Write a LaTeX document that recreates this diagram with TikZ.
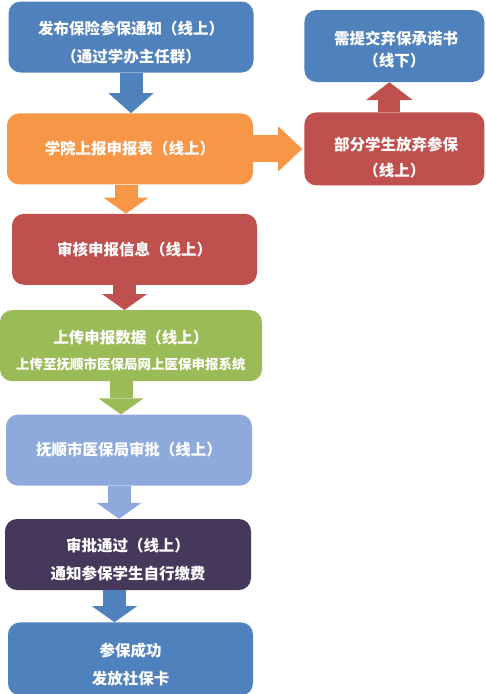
\documentclass[tikz,border=0pt]{standalone}
\usepackage{fontspec}
\setmainfont{Noto Sans CJK SC}
\usepackage{xcolor}
\definecolor{cBlue}  {HTML}{4F81BD}
\definecolor{cOrange}{HTML}{F79646}
\definecolor{cRed}   {HTML}{C0504D}
\definecolor{cGreen} {HTML}{9BBB59}
\definecolor{cSky}   {HTML}{8EA9DB}
\definecolor{cPlum}  {HTML}{46385B}
\usetikzlibrary{arrows.meta, positioning}
\newcommand{\dropline}[1][24pt]{\rule{0pt}{#1}}
\tikzset{
  box/.style    = {rectangle, rounded corners=12pt, minimum width=#1,
                   minimum height=71pt, align=center, text=white,
                   font=\fontsize{15.5pt}{28pt}\selectfont\bfseries},
  box/.default  = 245pt,
  blkarr/.style = {draw=#1, line width=23pt,
                   -{Triangle[width=45pt, length=16pt, line width=0pt]}},
}

\begin{document}
\begin{tikzpicture}

  \useasboundingbox (0pt,0pt) rectangle (485pt,-694pt);

  \node[box, fill=cBlue] (notice) at (131pt,-37pt)
        {\dropline 发布保险参保通知（线上）\\（通过学办主任群）};
  \node[box=246pt, fill=cOrange, below=40.5pt of notice, xshift=-1pt] (report)
        {学院上报申报表（线上）};
  \node[box, fill=cRed,    below=29pt of report, xshift=4.5pt] (check)
        {审核申报信息（线上）};
  \node[box=262pt, fill=cGreen, below=25pt of check, xshift=-3.5pt] (upload)
        {\dropline 上传申报数据（线上）\\[-2pt]{\fontsize{13.5pt}{15pt}\selectfont 上传至抚顺市医保局网上医保申报系统}};
  \node[box=246pt, fill=cSky,  below=33pt of upload, xshift=-2pt] (bureau)
        {抚顺市医保局审批（线上）};
  \node[box=246pt, fill=cPlum, below=33pt of bureau, xshift=-1pt] (pass)
        {\dropline 审批通过（线上）\\通知参保学生自行缴费};
  \node[box, fill=cBlue, minimum height=73pt, below=32pt of pass, xshift=2.5pt] (done)
        {\dropline 参保成功\\发放社保卡};

  \node[box=180pt, fill=cRed,  minimum height=73pt, right=51pt of report] (quit)
        {\dropline[30pt] 部分学生放弃参保\\[-2pt]（线上）};
  \node[box=180pt, fill=cBlue, minimum height=72pt, above=30pt of quit] (pledge)
        {\dropline[20pt] 需提交弃保承诺书\\[-6pt]（线下）};

  % block arrows down the main column
  \draw[blkarr=cBlue, -{Triangle[width=45pt, length=20pt, line width=0pt]}]
        (notice.south) -- (notice.south |- report.north);
  \draw[blkarr=cOrange] ([xshift=-4pt]report.south) -- ([xshift=-4pt]report.south |- check.north);
  \draw[blkarr=cRed]    ([xshift=-10pt]check.south) -- ([xshift=-10pt]check.south |- upload.north);
  \draw[blkarr=cGreen]  ([xshift=-10pt]upload.south) -- ([xshift=-10pt]upload.south |- bureau.north);
  \draw[blkarr=cSky]    ([xshift=-10pt]bureau.south) -- ([xshift=-10pt]bureau.south |- pass.north);
  \draw[blkarr=cBlue]   ([xshift=-13.5pt]pass.south) -- ([xshift=-13.5pt]pass.south |- done.north);

  % side branch
  \draw[blkarr=cOrange, line width=27pt, shorten >=2pt,
        -{Triangle[width=45pt, length=24pt, line width=0pt]}]
        (report.east) -- (quit.west);
  \draw[blkarr=cRed, line width=22pt,
        -{Triangle[width=47pt, length=18pt, line width=0pt]}]
        ([xshift=-5pt]quit.north) -- ([xshift=-5pt]quit.north |- pledge.south);

\end{tikzpicture}
\end{document}
